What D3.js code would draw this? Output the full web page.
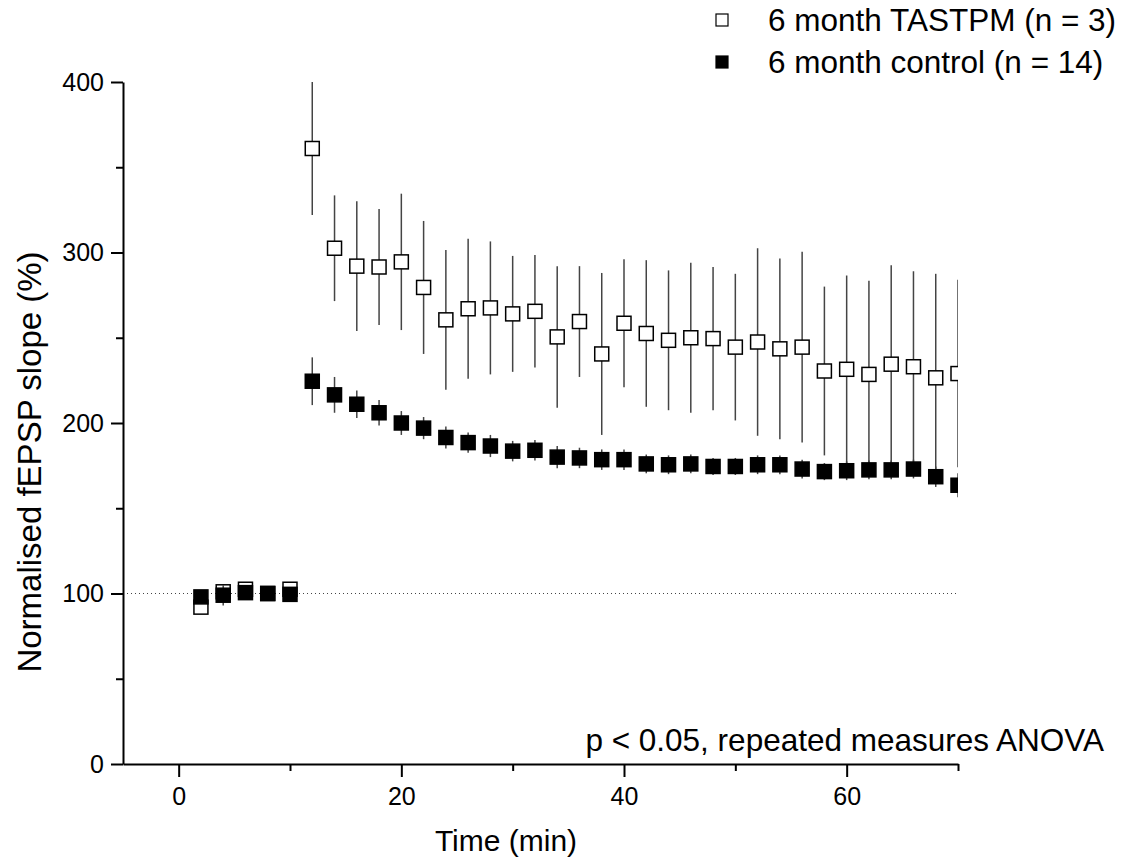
<!DOCTYPE html>
<html>
<head>
<meta charset="utf-8">
<script src="https://cdn.jsdelivr.net/npm/d3@7"></script>
<style>
  html, body { margin: 0; padding: 0; background: #fff; }
  svg { display: block; }
  text { font-family: "Liberation Sans", Arial, Helvetica, sans-serif; fill: #000; }
</style>
</head>
<body>
<svg id="chart" width="1124" height="864"></svg>
<script>
// Recording time points (min)
const timeMin = [2, 4, 6, 8, 10, 12, 14, 16, 18, 20, 22, 24, 26, 28, 30, 32, 34, 36,
                 38, 40, 42, 44, 46, 48, 50, 52, 54, 56, 58, 60, 62, 64, 66, 68, 70];

// 6 month TASTPM, mean and SEM of normalised fEPSP slope (%)
const tastpmMean = [92, 101, 102.5, 100, 102.5, 361, 302.5, 292, 291.5, 294.5, 279.5, 260.5,
                    267, 267.5, 264, 265.5, 250.5, 259.5, 240.5, 258.5, 252.5, 248.5, 250,
                    249.5, 244.5, 247.5, 243.5, 244.5, 230.5, 231.5, 228.5, 234.5, 233, 226.5, 229];
const tastpmErr  = [3, 3, 2, 2, 3, 39, 31, 38, 34, 40, 39, 41, 41, 39, 34, 33, 41.5, 32.5,
                    47.5, 37.5, 43, 41, 44, 42, 43, 55, 53, 56, 49.5, 55, 55, 58, 56, 61, 55];

// 6 month control, mean and SEM
const controlMean = [98, 99, 100.5, 100, 99.5, 224.5, 216.5, 211, 206, 200, 197, 191.5, 188.5,
                     186.5, 183.5, 184, 180, 179.5, 178.5, 178.5, 176, 175.5, 176, 174.5, 174.5,
                     175.5, 175.5, 173, 171.5, 172, 172.5, 172.5, 173, 168.5, 163.5];
const controlErr  = [3, 6, 3, 2, 4, 14, 10.5, 8, 7.5, 7, 6.5, 6.5, 6, 6.5, 6, 6, 6.5, 6,
                     6, 6, 5.5, 5.5, 5.5, 5, 5, 5.5, 5.5, 5.5, 5, 5.5, 5.5, 5.5, 5.5, 6, 7];

const baselineLevel = 100;

const xMajorTicks = [0, 20, 40, 60];
const xMinorTicks = [10, 30, 50, 70];
const yMajorTicks = [0, 100, 200, 300, 400];
const yMinorTicks = [50, 150, 250, 350];

const legendLabels = ["6 month TASTPM (n = 3)", "6 month control (n = 14)"];
const xTitle = "Time (min)";
const yTitle = "Normalised fEPSP slope (%)";
const statsNote = "p < 0.05, repeated measures ANOVA";

const svg = d3.select("#chart");

const x = d3.scaleLinear().domain([-5, 70]).range([123, 958]);
const y = d3.scaleLinear().domain([0, 400]).range([764, 82]);

const series = [
  { name: legendLabels[0], mean: tastpmMean, err: tastpmErr, fill: "#fff" },
  { name: legendLabels[1], mean: controlMean, err: controlErr, fill: "#000" }
];

// clip for plotted data
svg.append("defs").append("clipPath").attr("id", "plotClip")
  .append("rect")
  .attr("x", x.range()[0]).attr("y", 0)
  .attr("width", x.range()[1] - x.range()[0]).attr("height", y.range()[0]);

// dotted baseline at 100 %
svg.append("line")
  .attr("x1", x.range()[0]).attr("x2", x.range()[1])
  .attr("y1", y(baselineLevel)).attr("y2", y(baselineLevel))
  .attr("stroke", "#444").attr("stroke-width", 1)
  .attr("stroke-dasharray", "1,3");

const plot = svg.append("g").attr("clip-path", "url(#plotClip)");
const markerSize = 14;

series.forEach(s => {
  const g = plot.append("g");
  const pts = timeMin.map((t, i) => ({ t, m: s.mean[i], e: s.err[i] }));
  g.selectAll("line.err").data(pts).join("line")
    .attr("class", "err")
    .attr("x1", d => x(d.t)).attr("x2", d => x(d.t))
    .attr("y1", d => y(d.m + d.e)).attr("y2", d => y(d.m - d.e))
    .attr("stroke", "#444").attr("stroke-width", 1.5);
  g.selectAll("rect.mk").data(pts).join("rect")
    .attr("class", "mk")
    .attr("x", d => x(d.t) - markerSize / 2)
    .attr("y", d => y(d.m) - markerSize / 2)
    .attr("width", markerSize).attr("height", markerSize)
    .attr("fill", s.fill)
    .attr("stroke", "#000").attr("stroke-width", 1.5);
});

// axes
const axisStyle = g => {
  g.selectAll("path.domain").attr("stroke", "#000").attr("stroke-width", 2);
  g.selectAll(".tick line").attr("stroke", "#000").attr("stroke-width", 2);
  g.selectAll(".tick text").attr("font-size", 25).attr("fill", "#000")
    .attr("font-family", "'Liberation Sans', Arial, sans-serif");
};

svg.append("g").attr("transform", `translate(0,${y.range()[0]})`)
  .call(d3.axisBottom(x).tickValues(xMinorTicks).tickSize(7).tickSizeOuter(0).tickFormat(""))
  .call(axisStyle);
svg.append("g").attr("transform", `translate(0,${y.range()[0]})`)
  .call(d3.axisBottom(x).tickValues(xMajorTicks).tickSize(13).tickSizeOuter(0).tickPadding(10))
  .call(axisStyle)
  .call(g => g.select("path.domain").remove());

svg.append("g").attr("transform", `translate(${x.range()[0]},0)`)
  .call(d3.axisLeft(y).tickValues(yMinorTicks).tickSize(7).tickSizeOuter(0).tickFormat(""))
  .call(axisStyle);
svg.append("g").attr("transform", `translate(${x.range()[0]},0)`)
  .call(d3.axisLeft(y).tickValues(yMajorTicks).tickSize(12).tickSizeOuter(0).tickPadding(7))
  .call(axisStyle)
  .call(g => g.select("path.domain").remove());

// axis titles
svg.append("text")
  .attr("x", 506).attr("y", 851)
  .attr("text-anchor", "middle").attr("font-size", 30)
  .text(xTitle);

svg.append("text")
  .attr("transform", "translate(41,462) rotate(-90)")
  .attr("text-anchor", "middle").attr("font-size", 33)
  .text(yTitle);

// statistics note
svg.append("text")
  .attr("x", 1104).attr("y", 751)
  .attr("text-anchor", "end").attr("font-size", 31.5)
  .text(statsNote);

// legend
const legend = svg.append("g");
series.forEach((s, i) => {
  const cy = 20 + i * 42;
  legend.append("rect")
    .attr("x", 716).attr("y", cy - 6)
    .attr("width", 12).attr("height", 12)
    .attr("fill", s.fill).attr("stroke", "#000").attr("stroke-width", 1.2);
  legend.append("text")
    .attr("x", 768).attr("y", cy + 11)
    .attr("font-size", 31.5)
    .text(s.name);
});
</script>
</body>
</html>
